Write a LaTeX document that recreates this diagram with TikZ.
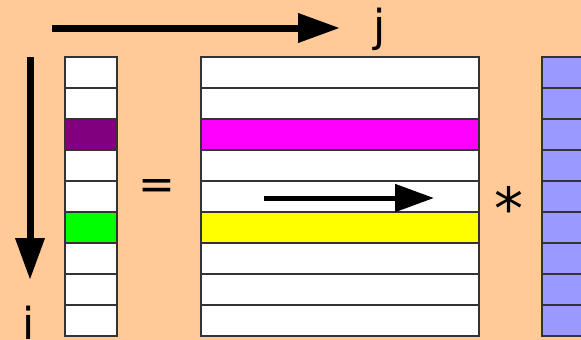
\documentclass[tikz,border=0pt]{standalone}
\usepackage{fontspec}
\setmainfont{DejaVu Sans}
\usetikzlibrary{arrows.meta}
\definecolor{peach}{HTML}{FFCA98}
\definecolor{gridline}{HTML}{333333}
\definecolor{cellpurple}{HTML}{800080}
\definecolor{cellgreen}{HTML}{00FF00}
\definecolor{cellmagenta}{HTML}{FF00FF}
\definecolor{cellyellow}{HTML}{FFFF00}
\definecolor{cellblue}{HTML}{9999FF}
\begin{document}
\begin{tikzpicture}[x=1pt,y=-1pt,
  cell/.style={draw=gridline, line width=1.3pt, minimum height=31pt,
    inner sep=0pt, outer sep=0pt, anchor=north west},
  veccell/.style={cell, minimum width=52pt},
  rowcell/.style={cell, minimum width=278pt},
  bigarrow/.style={line width=7pt, -{Triangle[length=42pt,width=28pt]}},
  midarrow/.style={line width=5pt, -{Triangle[length=39pt,width=27pt]}},
  label/.style={font=\fontsize{44}{44}\selectfont, inner sep=0pt}]
  \fill[peach] (0,0) rectangle (581,340);
  \useasboundingbox (0,0) rectangle (581,340);
  \clip (0,0) rectangle (581,340);

  % result vector
  \foreach \k/\c in {0/white,1/white,2/cellpurple,3/white,4/white,
                     5/cellgreen,6/white,7/white,8/white}
    \node[veccell, fill=\c] (v\k) at (65,{57+31*\k}) {};

  % matrix rows
  \foreach \k/\c in {0/white,1/white,2/cellmagenta,3/white,4/white,
                     5/cellyellow,6/white,7/white,8/white}
    \node[rowcell, fill=\c] (m\k) at (201,{57+31*\k}) {};

  % operand vector
  \foreach \k in {0,...,8}
    \node[veccell, fill=cellblue] (b\k) at (542,{57+31*\k}) {};

  % index arrows
  \coordinate (jfrom) at (52,28);
  \coordinate (jto) at (340,28);
  \draw[bigarrow] (jfrom) -- (jto);
  \node[label] (jlab) at (380,29) {j};

  \coordinate (ifrom) at (30,57);
  \coordinate (ito) at (30,280);
  \draw[bigarrow] (ifrom) -- (ito);
  \node[label, anchor=north] (ilab) at (29,306) {i};

  % sweep along a row
  \coordinate (rfrom) at (264,198);
  \coordinate (rto) at (434,198);
  \draw[midarrow] (rfrom) -- (rto);

  % operators
  \node[label] (eq) at (157,190) {=};
  \node[label, font=\fontsize{58}{58}\selectfont] (times) at (509,208) {*};
\end{tikzpicture}
\end{document}
